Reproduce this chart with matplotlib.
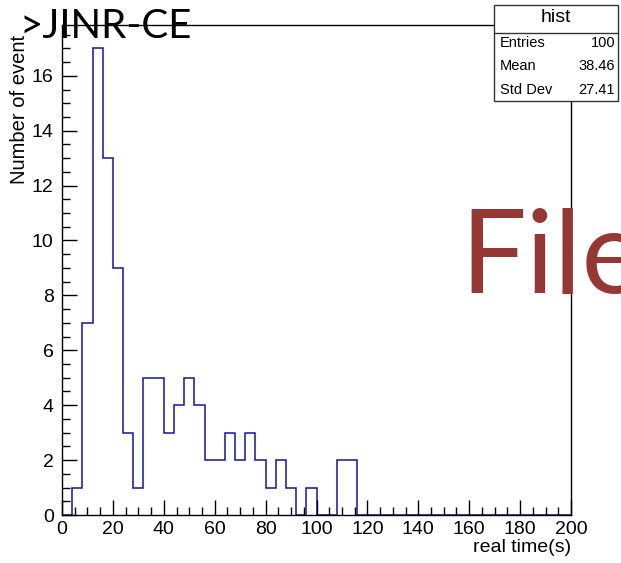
"""
ROOT-style histogram of real time per event, with the slide overlay text
"""

import numpy as np
import matplotlib.pyplot as plt
from matplotlib.patches import Rectangle
from matplotlib.lines import Line2D
from matplotlib.ticker import MultipleLocator


# histogram content, 50 bins of width 4 between 0 and 200
bin_edges = np.arange(0, 204, 4)
counts = [0, 1, 7, 17, 13, 9, 3, 1, 5, 5,
          3, 4, 5, 4, 2, 2, 3, 2, 3, 2,
          1, 2, 1, 0, 1, 0, 0, 2, 2, 0,
          0, 0, 0, 0, 0, 0, 0, 0, 0, 0,
          0, 0, 0, 0, 0, 0, 0, 0, 0, 0]

x_title = 'real time(s)'
y_title = 'Number of event'
stats_name = 'hist'
stats_rows = ['Entries', 'Mean', 'Std Dev']
stats_values = ['100', '38.46', '27.41']


def main() -> None:
	plt.rcParams['font.family'] = ['Liberation Sans', 'DejaVu Sans']
	fig = plt.figure(figsize=(6.21, 5.63), dpi=100)
	ax = fig.add_axes([62 / 621, 1 - 515 / 563, 509 / 621, 490 / 563])

	ax.stairs(counts, bin_edges, color='#1414a0', linewidth=1.1)

	ax.set_xlim(0, 200)
	ax.set_ylim(0, max(counts) * 1.05)
	ax.xaxis.set_major_locator(MultipleLocator(20))
	ax.xaxis.set_minor_locator(MultipleLocator(5))
	ax.yaxis.set_major_locator(MultipleLocator(2))
	ax.yaxis.set_minor_locator(MultipleLocator(0.5))
	ax.tick_params(which='both', direction='in', top=False, right=False, labelsize=14, width=1)
	ax.tick_params(which='major', length=10.5)
	ax.tick_params(which='minor', length=5.5)
	ax.tick_params(axis='x', pad=4)
	ax.tick_params(axis='y', pad=6)
	for spine in ax.spines.values():
		spine.set_linewidth(1)

	ax.set_xlabel(x_title, fontsize=14, loc='right', labelpad=1)
	ax.set_ylabel(y_title, fontsize=14.5, loc='top', labelpad=2)
	ax.yaxis.label.set_y(0.98)

	# stats box
	bx, by, bw, bh = 494 / 621, 1 - 101 / 563, 124 / 621, 96 / 563
	fig.patches.append(Rectangle((bx, by), bw, bh, transform=fig.transFigure,
		facecolor='white', edgecolor='#333333', linewidth=1, zorder=5))
	sep_y = 1 - 33 / 563
	fig.lines.append(Line2D([bx, bx + bw], [sep_y, sep_y], transform=fig.transFigure,
		color='#333333', linewidth=1, zorder=6))
	fig.text(bx + bw / 2, 1 - 18 / 563, stats_name, ha='center', va='center', fontsize=14, zorder=7)
	for i, (name, value) in enumerate(zip(stats_rows, stats_values)):
		yy = 1 - (43 + 23.5 * i) / 563
		fig.text(500 / 621, yy, name, ha='left', va='center', fontsize=10.5, zorder=7)
		fig.text(615 / 621, yy, value, ha='right', va='center', fontsize=10.5, zorder=7)

	# slide overlay text
	fig.text(20 / 621, 1 - 38 / 563, '>JINR-CE', fontsize=29, family='Lato', color='black',
		ha='left', va='baseline', zorder=8)
	fig.text(460 / 621, 1 - 293 / 563, 'File', fontsize=84, family='Lato', color='#953735',
		ha='left', va='baseline', zorder=8)

	fig.savefig('out.png', dpi=100)


if __name__ == '__main__':
	main()
